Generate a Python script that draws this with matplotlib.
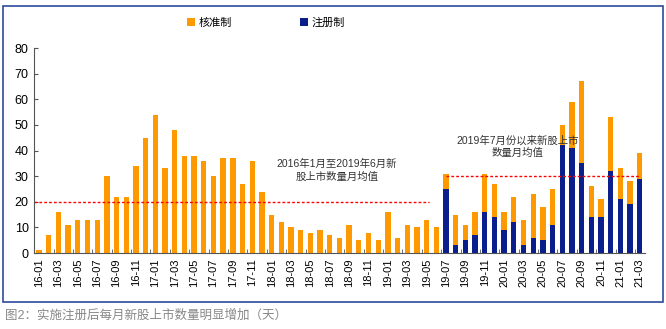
import numpy as np
import matplotlib.pyplot as plt
from matplotlib.patches import Rectangle

plt.rcParams['font.family'] = ['Liberation Sans', 'Noto Sans CJK SC', 'DejaVu Sans']

# meses 16-01 .. 21-03
meses = []
for a in range(16, 22):
    for m in range(1, 13):
        meses.append('%02d-%02d' % (a, m))
meses = meses[:63]

# total mensual de nuevas acciones
total = [1, 7, 16, 11, 13, 13, 13, 30, 22, 22, 34, 45,
         54, 33, 48, 38, 38, 36, 30, 37, 37, 27, 36, 24,
         15, 12, 10, 9, 8, 9, 7, 6, 11, 5, 8, 5,
         16, 6, 11, 10, 13, 10, 31, 15, 11, 16, 31, 27,
         16, 22, 13, 23, 18, 25, 50, 59, 67, 26, 21, 53,
         33, 28, 39]
# 注册制 desde 19-07
zhuce = [0] * 42 + [25, 3, 5, 7, 16, 14, 9, 12, 3, 6, 5, 11,
                    42, 41, 35, 14, 14, 32, 21, 19, 29]
hezhun = [t - z for t, z in zip(total, zhuce)]

media1 = 20
media2 = 30

naranja = '#FF9900'
azul = '#0B1F8C'

fig = plt.figure(figsize=(6.66, 3.29), dpi=100)
ax = fig.add_axes([0.0514, 0.231, 0.9165, 0.623])

x = np.arange(len(meses))
ax.bar(x, zhuce, width=0.55, color=azul, label='注册制')
ax.bar(x, hezhun, width=0.55, bottom=zhuce, color=naranja, label='核准制')

# lineas de media
ax.plot([-0.5, 40.2], [media1, media1], color='red', ls=(0, (2, 1.5)), lw=1)
ax.plot([42, 62], [media2, media2], color='red', ls=(0, (2, 1.5)), lw=1)

ax.text(30.75, 32.4, '2016年1月至2019年6月新\n股上市数量月均值', ha='center', va='center',
        fontsize=7.5, color='#333333', linespacing=1.3)
ax.text(49.4, 41.6, '2019年7月份以来新股上市\n数量月均值', ha='center', va='center',
        fontsize=7.5, color='#333333', linespacing=1.3)

ax.set_xlim(-0.5, 62.5)
ax.set_ylim(0, 80)
ax.set_yticks(range(0, 81, 10))
ax.set_xticks(x[::2])
ax.set_xticklabels(meses[::2], rotation=90)
ax.set_xticks(np.arange(-0.5, 63, 2), minor=True)
ax.tick_params(axis='x', which='major', length=0, labelsize=8, pad=4)
ax.tick_params(axis='x', which='minor', length=3, direction='in', color='#555555')
ax.tick_params(axis='y', labelsize=9, direction='in', length=3, color='#555555', pad=4)
for s in ['top', 'right']:
    ax.spines[s].set_visible(False)
for s in ['left', 'bottom']:
    ax.spines[s].set_color('#555555')

h, l = ax.get_legend_handles_labels()
fig.legend([h[1], h[0]], [l[1], l[0]], loc='center', bbox_to_anchor=(266 / 666, 0.93),
           ncol=2, frameon=False, fontsize=8, handlelength=0.7, handleheight=0.7,
           handletextpad=0.3, columnspacing=6.2)

# marco azul
fig.patches.append(Rectangle((3 / 666, 1 - 302 / 329), 660 / 666, 296 / 329,
                             transform=fig.transFigure, fill=False,
                             edgecolor='#2E4C9C', lw=1.2))

fig.text(5 / 666, 1 - 316 / 329, '图2：实施注册后每月新股上市数量明显增加（天）',
         fontsize=9, color='#888888', va='center', ha='left')

plt.savefig('out.png')
